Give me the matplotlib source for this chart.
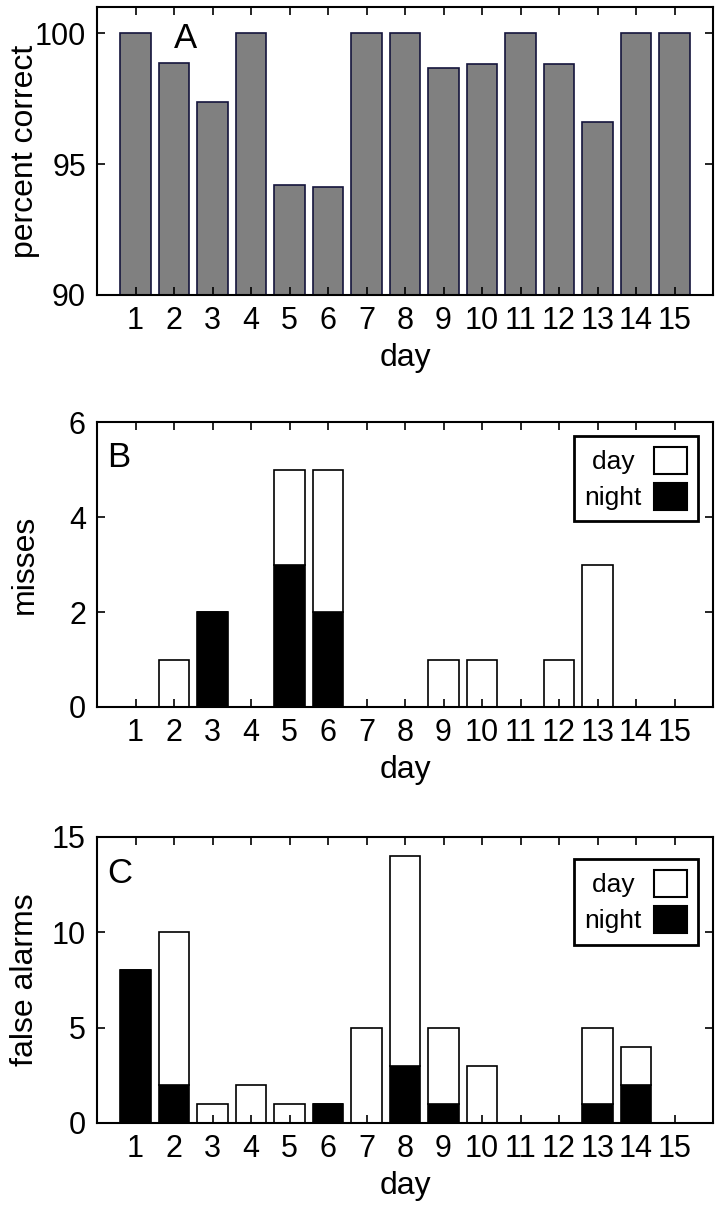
import matplotlib
matplotlib.use("Agg")
import matplotlib.pyplot as plt
import numpy as np
from matplotlib.patches import Patch

days = list(range(1, 16))
percent_correct = [100, 98.87, 97.38, 100, 94.2, 94.11, 100, 100, 98.68, 98.84, 100, 98.82, 96.62, 100, 100]
misses_night = [0, 0, 2, 0, 3, 2, 0, 0, 0, 0, 0, 0, 0, 0, 0]
misses_day = [0, 1, 0, 0, 2, 3, 0, 0, 1, 1, 0, 1, 3, 0, 0]
fa_night = [8, 2, 0, 0, 0, 1, 0, 3, 1, 0, 0, 0, 1, 2, 0]
fa_day = [0, 8, 1, 2, 1, 0, 5, 11, 4, 3, 0, 0, 4, 2, 0]

plt.rcParams['font.family'] = ['Liberation Sans', 'DejaVu Sans']

FS = 22
LFS = 19
W, H = 721, 1214
fig = plt.figure(figsize=(W / 100, H / 100), dpi=100)

def axes_px(left, top, right, bottom):
    return fig.add_axes([left / W, 1 - bottom / H, (right - left) / W, (bottom - top) / H])

axA = axes_px(97, 7, 713, 295)
axB = axes_px(97, 422, 713, 707)
axC = axes_px(97, 837, 713, 1123)

def style(ax):
    ax.set_xlim(0, 16)
    ax.set_xticks(days)
    ax.set_xticklabels([str(d) for d in days])
    ax.tick_params(direction='in', top=True, right=True, length=6, width=1.2,
                   labelsize=FS, pad=8)
    for s in ax.spines.values():
        s.set_linewidth(1.5)
    ax.set_xlabel('day', fontsize=FS + 1, labelpad=5)

x = np.array(days)
axA.bar(x, np.array(percent_correct) - 90, bottom=90, width=0.8, color='#808080',
        edgecolor='#14143c', linewidth=1.2)
axA.set_ylim(90, 101)
axA.set_yticks([90, 95, 100])
style(axA)
axA.set_ylabel('percent correct', fontsize=FS + 1)
axA.yaxis.set_label_coords(-0.092, 0.5)
axA.text(2.29, 99.8, 'A', fontsize=25, ha='center', va='center')

def stacked(ax, night, day, anchor):
    ax.bar(x, night, width=0.8, color='black', edgecolor='black', linewidth=1.2)
    ax.bar(x, day, bottom=night, width=0.8, color='white', edgecolor='black', linewidth=1.2)
    handles = [Patch(facecolor='white', edgecolor='black', linewidth=1.5),
               Patch(facecolor='black', edgecolor='black', linewidth=1.5)]
    leg = ax.legend(handles, ['day ', 'night'], loc='upper right', bbox_to_anchor=anchor,
                    markerfirst=False, fontsize=LFS, fancybox=False, framealpha=1,
                    edgecolor='black', handlelength=1.25, handleheight=1.17,
                    borderpad=0.42, labelspacing=0.34, handletextpad=0.45, borderaxespad=0)
    leg.get_frame().set_linewidth(2)

stacked(axB, misses_night, misses_day, (0.9756, 0.951))
axB.set_ylim(0, 6)
axB.set_yticks([0, 2, 4, 6])
style(axB)
axB.set_ylabel('misses', fontsize=FS + 1)
axB.yaxis.set_label_coords(-0.092, 0.5)
axB.text(0.26, 5.26, 'B', fontsize=25, ha='left', va='center')

stacked(axC, fa_night, fa_day, (0.9756, 0.923))
axC.set_ylim(0, 15)
axC.set_yticks([0, 5, 10, 15])
style(axC)
axC.set_ylabel('false alarms', fontsize=FS + 1)
axC.yaxis.set_label_coords(-0.092, 0.5)
axC.text(0.26, 13.1, 'C', fontsize=25, ha='left', va='center')

fig.savefig('out.png', dpi=100)
